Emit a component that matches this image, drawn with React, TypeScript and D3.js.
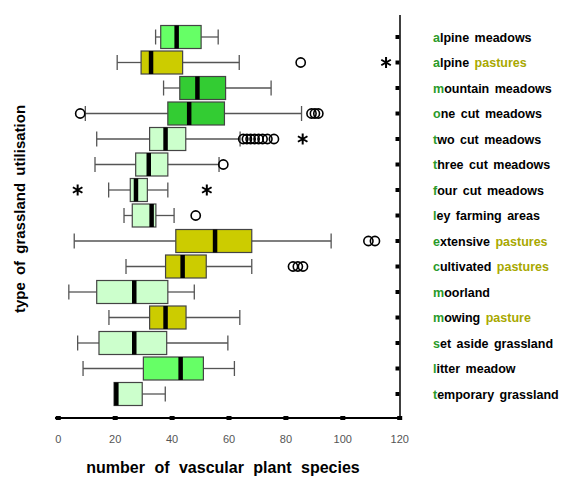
import React, { useRef, useEffect } from 'react';
import * as d3 from 'd3';

// grassland utilisation types, top to bottom
const categories = [
  'alpine meadows', 'alpine pastures', 'mountain meadows', 'one cut meadows',
  'two cut meadows', 'three cut meadows', 'four cut meadows', 'ley farming areas',
  'extensive pastures', 'cultivated pastures', 'moorland', 'mowing pasture',
  'set aside grassland', 'litter meadow', 'temporary grassland',
];

// fill group: a = bright green, m = mid green, p = pasture olive, l = light green
const groups = ['a', 'p', 'm', 'm', 'l', 'l', 'l', 'l', 'p', 'p', 'l', 'p', 'l', 'a', 'l'];

const whiskerLow = [34.2, 20.7, 37, 9.5, 13.5, 12.9, 17.7, 23.1, 5.6, 23.8, 3.7, 17.8, 6.8, 8.7, 20.2];
const q1 = [36, 29.1, 42.7, 38.5, 32.1, 27.2, 25.3, 26, 41.3, 37.7, 13.5, 32.1, 14.3, 29.9, 19.6];
const median = [41.6, 32.6, 48.9, 46, 37.7, 31.8, 27.3, 32.8, 55.1, 43.7, 26.7, 37.7, 26.7, 43, 20.4];
const q3 = [50.2, 43.7, 58.8, 58.4, 44.8, 38.5, 31.3, 34.3, 68, 52, 38.5, 44.9, 38.1, 51, 29.5];
const whiskerHigh = [56.2, 63.6, 74.8, 85.5, 63.9, 56.5, 38.5, 40.7, 95.9, 68, 47.8, 63.8, 59.6, 61.9, 37.6];

// outliers: [row, value]
const circleOutliers: [number, number][] = [
  [1, 85.2],
  [3, 7.7], [3, 89], [3, 90.2], [3, 91.4],
  [4, 65], [4, 66.3], [4, 67.6], [4, 69], [4, 70.4], [4, 71.8], [4, 73.5], [4, 75.8],
  [5, 58],
  [7, 48.3],
  [8, 109], [8, 111.3],
  [9, 82.5], [9, 84.2], [9, 86],
];
const starOutliers: [number, number][] = [
  [1, 115.2], [4, 85.9], [6, 6.8], [6, 52.2],
];

const xTicks = [0, 20, 40, 60, 80, 100, 120];

const fills: Record<string, string> = { a: '#66ff66', m: '#33cc33', p: '#cccc00', l: '#ccffcc' };

export default function App() {
  const svgRef = useRef<SVGSVGElement>(null);

  useEffect(() => {
    if (!svgRef.current) return;
    const width = 564;
    const height = 479;

    const svg = d3.select(svgRef.current);
    svg.selectAll('*').remove();

    const x = d3.scaleLinear().domain([0, 120]).range([58.3, 399.7]);
    const y = d3.scalePoint<number>()
      .domain(categories.map((_, i) => i))
      .range([37, 394]);

    const boxH = 23;
    const capH = 15;
    const g = svg.append('g');

    // Whiskers
    const rows = g.selectAll('g.row')
      .data(categories.map((c, i) => i))
      .join('g')
      .attr('class', 'row')
      .attr('transform', d => `translate(0,${y(d)})`);

    rows.append('line')
      .attr('x1', d => x(whiskerLow[d]))
      .attr('x2', d => x(q1[d]))
      .attr('stroke', '#555')
      .attr('stroke-width', 1.3);
    rows.append('line')
      .attr('x1', d => x(q3[d]))
      .attr('x2', d => x(whiskerHigh[d]))
      .attr('stroke', '#555')
      .attr('stroke-width', 1.3);
    rows.filter(d => whiskerLow[d] < q1[d] - 0.5).append('line')
      .attr('x1', d => x(whiskerLow[d]))
      .attr('x2', d => x(whiskerLow[d]))
      .attr('y1', -capH / 2)
      .attr('y2', capH / 2)
      .attr('stroke', '#555')
      .attr('stroke-width', 1.3);
    rows.append('line')
      .attr('x1', d => x(whiskerHigh[d]))
      .attr('x2', d => x(whiskerHigh[d]))
      .attr('y1', -capH / 2)
      .attr('y2', capH / 2)
      .attr('stroke', '#555')
      .attr('stroke-width', 1.3);

    // Boxes
    rows.append('rect')
      .attr('x', d => x(q1[d]))
      .attr('y', -boxH / 2)
      .attr('width', d => x(q3[d]) - x(q1[d]))
      .attr('height', boxH)
      .attr('fill', d => fills[groups[d]])
      .attr('stroke', '#444')
      .attr('stroke-width', 1.2);

    // Medians
    rows.append('line')
      .attr('x1', d => x(median[d]))
      .attr('x2', d => x(median[d]))
      .attr('y1', -boxH / 2)
      .attr('y2', boxH / 2)
      .attr('stroke', '#000')
      .attr('stroke-width', 4.5);

    // Outliers
    g.selectAll('circle.out')
      .data(circleOutliers)
      .join('circle')
      .attr('class', 'out')
      .attr('cx', d => x(d[1]))
      .attr('cy', d => y(d[0])!)
      .attr('r', 4.6)
      .attr('fill', 'none')
      .attr('stroke', '#000')
      .attr('stroke-width', 1.6);

    g.selectAll('path.star')
      .data(starOutliers)
      .join('path')
      .attr('class', 'star')
      .attr('transform', d => `translate(${x(d[1])},${y(d[0])})`)
      .attr('d', d3.symbol().type(d3.symbolAsterisk).size(85)())
      .attr('fill', 'none')
      .attr('stroke', '#000')
      .attr('stroke-width', 2);

    // Bottom axis
    g.append('line')
      .attr('x1', 55).attr('x2', 400)
      .attr('y1', 418).attr('y2', 418)
      .attr('stroke', '#000').attr('stroke-width', 2);
    g.selectAll('rect.xtick')
      .data(xTicks)
      .join('rect')
      .attr('class', 'xtick')
      .attr('x', d => x(d) - 2.5)
      .attr('y', 416)
      .attr('width', 5)
      .attr('height', 4)
      .attr('fill', '#000');
    g.selectAll('text.xlab')
      .data(xTicks)
      .join('text')
      .attr('class', 'xlab')
      .attr('x', d => x(d))
      .attr('y', 443)
      .attr('text-anchor', 'middle')
      .style('font-family', 'Liberation Sans, Arial, sans-serif')
      .style('font-size', '11px')
      .style('fill', '#555')
      .text(d => d);

    // Right axis
    g.append('line')
      .attr('x1', 400).attr('x2', 400)
      .attr('y1', 15).attr('y2', 419)
      .attr('stroke', '#000').attr('stroke-width', 1.5);
    g.selectAll('rect.ytick')
      .data(categories.map((_, i) => i))
      .join('rect')
      .attr('class', 'ytick')
      .attr('x', 395.5)
      .attr('y', d => y(d)! - 2)
      .attr('width', 4)
      .attr('height', 4)
      .attr('fill', '#000');

    // Category labels
    const labels = g.selectAll('text.cat')
      .data(categories.map((c, i) => i))
      .join('text')
      .attr('class', 'cat')
      .attr('x', 433)
      .attr('y', d => y(d)! + 4.5)
      .style('font-family', 'Liberation Sans, Arial, sans-serif')
      .style('font-size', '12.5px')
      .style('font-weight', 'bold')
      .style('word-spacing', '2px');
    labels.each(function (d) {
      const t = d3.select(this);
      const name = categories[d];
      t.append('tspan').attr('fill', '#2a9a2a').text(name[0]);
      const rest = name.slice(1);
      const m = rest.match(/^(.*?)(pastures?)$/);
      if (m) {
        t.append('tspan').attr('fill', '#000').text(m[1]);
        t.append('tspan').attr('fill', '#a8a800').text(m[2]);
      } else {
        t.append('tspan').attr('fill', '#000').text(rest);
      }
    });

    // Axis titles
    svg.append('text')
      .attr('x', 223)
      .attr('y', 473)
      .attr('text-anchor', 'middle')
      .style('font-family', 'Liberation Sans, Arial, sans-serif')
      .style('font-size', '16px')
      .style('font-weight', 'bold')
      .style('word-spacing', '5px')
      .text('number of vascular plant species');

    svg.append('text')
      .attr('transform', 'translate(25,209) rotate(-90)')
      .attr('text-anchor', 'middle')
      .style('font-family', 'Liberation Sans, Arial, sans-serif')
      .style('font-size', '15px')
      .style('font-weight', 'bold')
      .style('word-spacing', '3px')
      .text('type of grassland utilisation');

    svg.attr('width', width).attr('height', height);
  }, []);

  return (
    <div style={{ position: 'absolute', left: 0, top: 0, background: '#fff' }}>
      <svg ref={svgRef} width={564} height={479} style={{ display: 'block' }} />
    </div>
  );
}
